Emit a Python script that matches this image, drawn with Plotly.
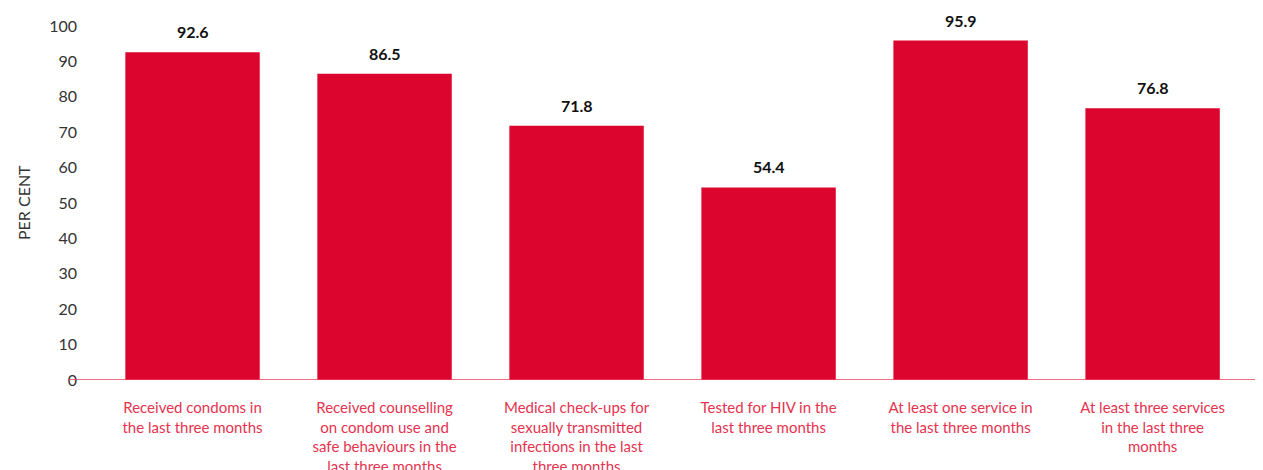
import plotly.graph_objects as go

categories = [
    "Received condoms in<br>the last three months",
    "Received counselling<br>on condom use and<br>safe behaviours in the<br>last three months",
    "Medical check-ups for<br>sexually transmitted<br>infections in the last<br>three months",
    "Tested for HIV in the<br>last three months",
    "At least one service in<br>the last three months",
    "At least three services<br>in the last three<br>months",
]
values = [92.6, 86.5, 71.8, 54.4, 95.9, 76.8]
y_ticks = [0, 10, 20, 30, 40, 50, 60, 70, 80, 90, 100]

x_idx = list(range(len(categories)))

L, R, T, B = 82, 8, 18, 98
PW = 1263 - L - R

fig = go.Figure(go.Bar(
    x=x_idx, y=values, width=0.70,
    marker=dict(color="#DC052D", line=dict(width=0)),
    cliponaxis=False,
))

for xi, v in zip(x_idx, values):
    fig.add_annotation(x=xi, y=v, text=f"<b>{v:.1f}</b>", showarrow=False,
                       yanchor="bottom", yshift=9,
                       font=dict(family="Lato", size=16, color="#111111"))

fig.add_annotation(xref="paper", yref="paper", x=(15 - L) / PW, y=0.5,
                   text="PER CENT", textangle=-90, showarrow=False,
                   xanchor="center", yanchor="middle",
                   font=dict(family="Lato", size=16, color="#333333"))

fig.update_layout(
    width=1263, height=470,
    margin=dict(l=L, r=R, t=T, b=B, autoexpand=False),
    plot_bgcolor="white", paper_bgcolor="white",
    showlegend=False,
    font=dict(family="Lato", size=15, color="#333333"),
    xaxis=dict(
        range=[-0.534, 5.575], tickmode="array", tickvals=x_idx, ticktext=categories,
        showline=False, showgrid=False, zeroline=False, ticks="",
        ticklabelstandoff=17, automargin=False,
        tickfont=dict(family="Lato", size=15, color="#E5334F"),
    ),
    yaxis=dict(
        range=[0, 100], tickmode="array", tickvals=y_ticks,
        showgrid=False, zeroline=False, showline=False, ticks="",
        ticklabelstandoff=12, automargin=False,
        tickfont=dict(family="Lato", size=16, color="#333333"),
    ),
)
fig.add_shape(type="line", xref="paper", yref="y", x0=(60 - L) / PW, x1=1, y0=0, y1=0,
              line=dict(color="#E8405A", width=1.5))

fig.write_html("out.html")
